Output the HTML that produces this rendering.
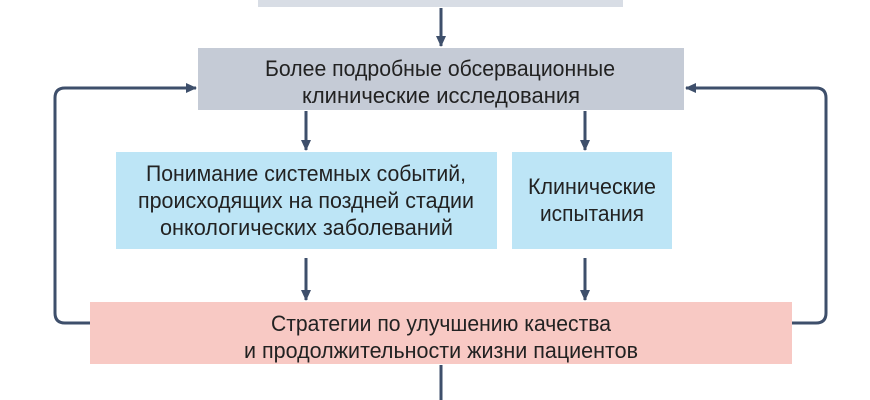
<!DOCTYPE html>
<html><head><meta charset="utf-8"><style>html,body{margin:0;padding:0;background:#fff;}svg{display:block}</style></head>
<body>
<svg width="870" height="400" viewBox="0 0 870 400" xmlns="http://www.w3.org/2000/svg" font-family="Liberation Sans, sans-serif" font-size="22" fill="#222">
<defs><marker id="a" markerWidth="12" markerHeight="12" refX="10" refY="6" orient="auto" markerUnits="userSpaceOnUse"><path d="M0,1 L11,6 L0,11 Z" fill="#3e4f6b"/></marker></defs>
<rect x="258" y="0" width="365" height="7" fill="#d8dde5"/>
<rect x="198" y="48" width="486" height="62" fill="#c5cbd6"/>
<rect x="116" y="152" width="381" height="97" fill="#bde5f6"/>
<rect x="512" y="152" width="160" height="97" fill="#bde5f6"/>
<rect x="90" y="302" width="702" height="62" fill="#f8c9c4"/>
<g stroke="#3e4f6b" stroke-width="3" fill="none">
<line x1="441" y1="8" x2="441" y2="46" marker-end="url(#a)"/>
<line x1="306" y1="111" x2="306" y2="150" marker-end="url(#a)"/>
<line x1="585" y1="111" x2="585" y2="150" marker-end="url(#a)"/>
<line x1="306" y1="258" x2="306" y2="300" marker-end="url(#a)"/>
<line x1="585" y1="258" x2="585" y2="300" marker-end="url(#a)"/>
<line x1="441" y1="365" x2="441" y2="402"/>
<path d="M90,323 L65,323 Q55,323 55,313 L55,98 Q55,88 65,88 L196,88" marker-end="url(#a)"/>
<path d="M792,323 L816,323 Q826,323 826,313 L826,98 Q826,88 816,88 L686,88" marker-end="url(#a)"/>
</g>
<g>
<text x="265" y="76" textLength="350" lengthAdjust="spacingAndGlyphs">Более подробные обсервационные</text>
<text x="302" y="103" textLength="278" lengthAdjust="spacingAndGlyphs">клинические исследования</text>
<text x="146" y="181" textLength="320" lengthAdjust="spacingAndGlyphs">Понимание системных событий,</text>
<text x="138" y="208" textLength="336" lengthAdjust="spacingAndGlyphs">происходящих на поздней стадии</text>
<text x="160" y="235" textLength="293" lengthAdjust="spacingAndGlyphs">онкологических заболеваний</text>
<text x="528" y="194" textLength="128" lengthAdjust="spacingAndGlyphs">Клинические</text>
<text x="540" y="221" textLength="104" lengthAdjust="spacingAndGlyphs">испытания</text>
<text x="271" y="331" textLength="340" lengthAdjust="spacingAndGlyphs">Стратегии по улучшению качества</text>
<text x="244" y="358" textLength="394" lengthAdjust="spacingAndGlyphs">и продолжительности жизни пациентов</text>
</g>
</svg>
</body></html>
